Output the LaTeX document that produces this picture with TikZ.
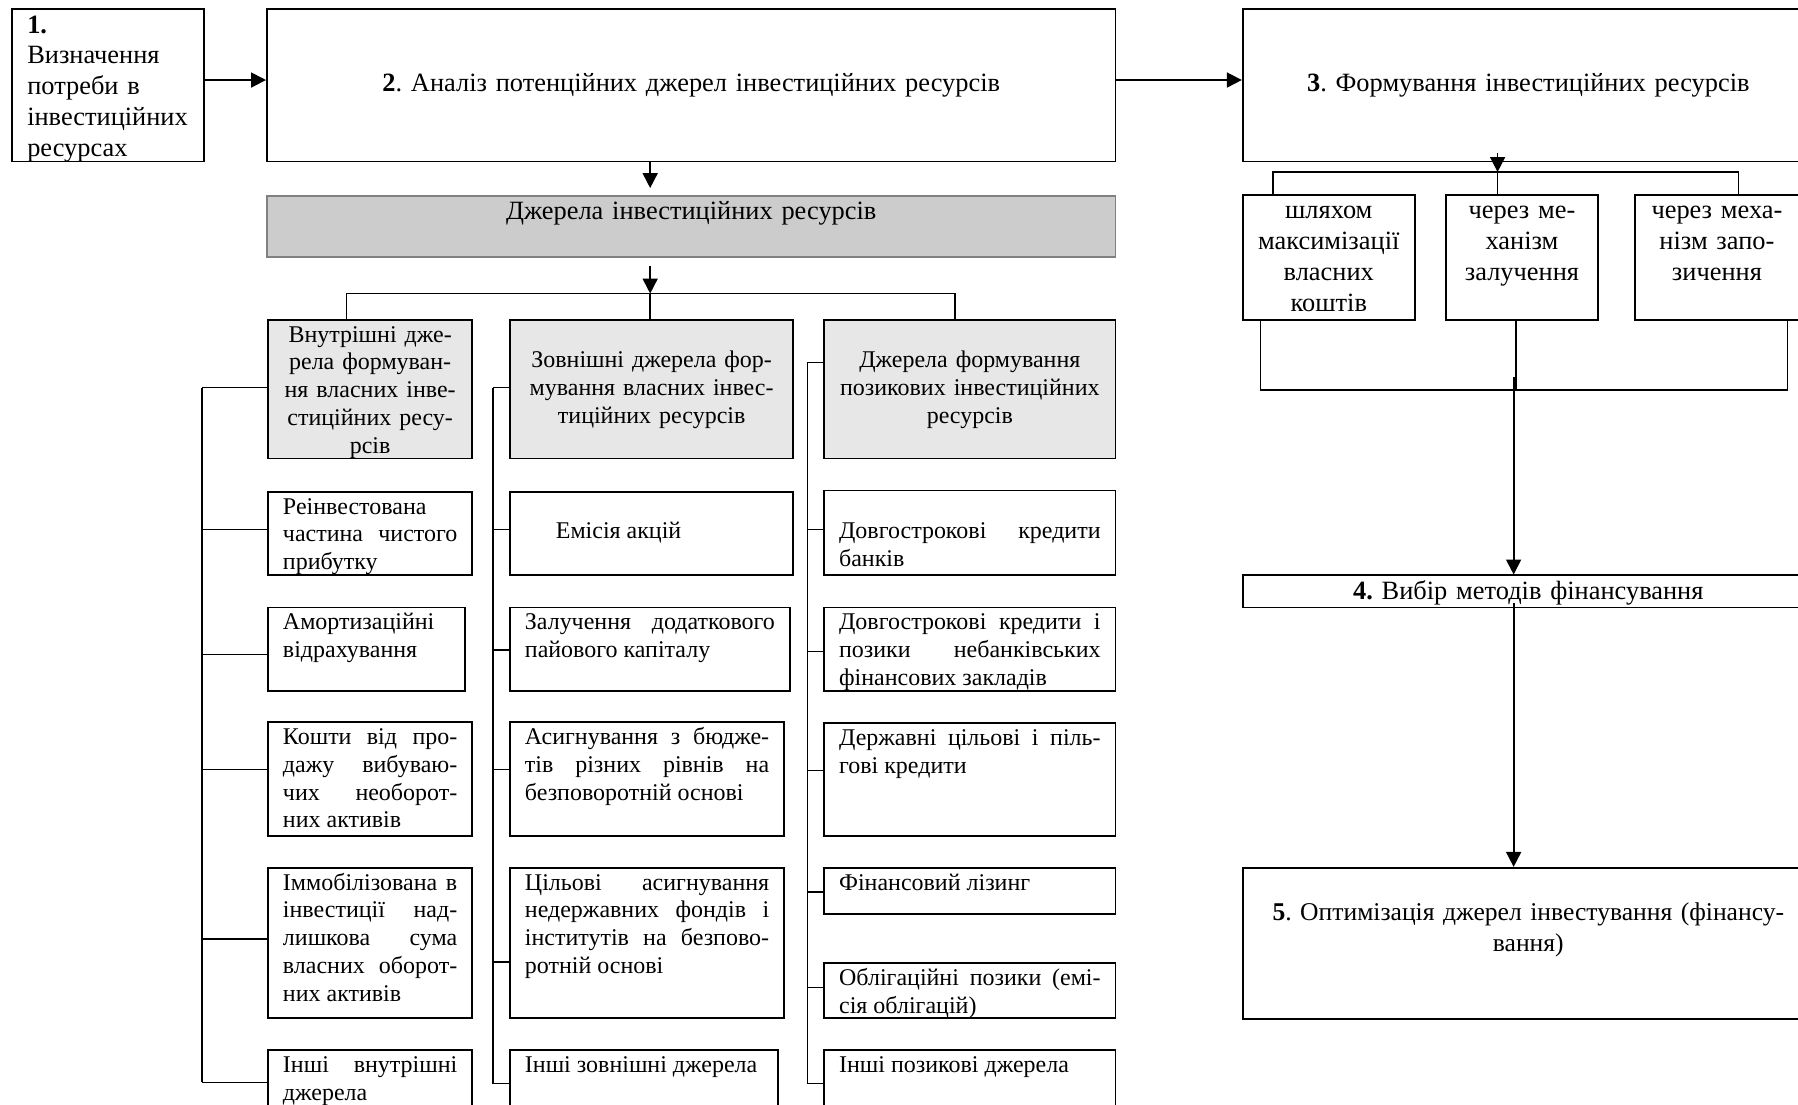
\documentclass[tikz,border=0pt]{standalone}
\usepackage{fontspec}
\setmainfont{Liberation Serif}
\frenchspacing
\usetikzlibrary{arrows.meta}
\definecolor{shade}{RGB}{204,204,204}
\definecolor{pale}{RGB}{231,231,231}
\definecolor{rim}{RGB}{128,128,128}
\tikzset{
  >={Triangle[length=2.6mm,width=2.6mm]},
  lead/.code={\def\celllead{#1}},
  pad/.code={\def\cellpad{#1}},
  cell/.style 2 args={draw,line width=0.9pt,anchor=north west,lead=0.39cm,pad=0.26cm,
    inner xsep=\cellpad,inner ysep=0pt,text width=#1*0.02cm-2*\cellpad,
    text height=\celllead,text depth=#2*0.02cm-\celllead,
    align=justify,font=\fontsize{11.9}{13.8}\selectfont},
  head/.style={fill=pale,align=center},
  big/.style={font=\fontsize{13.1}{15.3}\selectfont,lead=0.42cm},
  link/.style={line width=0.7pt},
  flow/.style={->,line width=0.9pt},
}
\begin{document}
\begin{tikzpicture}[x=0.02cm,y=-0.02cm]
  \path[use as bounding box,clip] (0,0) rectangle (1568,963);
  % stages
  \node[cell={167}{133},big,align=left] (b1) at (10,7) {\textbf{1.}\\Визначення\\потреби в\\інвестиційних\\ресурсах};
  \node[cell={740}{133},big,align=center,lead=1.44cm] (b2) at (232,7) {\textbf{2}. Аналіз потенційних джерел інвестиційних ресурсів};
  \node[cell={498}{133},big,align=center,lead=1.44cm] (b3) at (1083,7) {\textbf{3}. Формування інвестиційних ресурсів};
  \node[cell={498}{28},big,align=center] (b4) at (1083,501) {\textbf{4.} Вибір методів фінансування};
  \node[cell={498}{132},big,align=center,lead=0.92cm,font=\fontsize{12.7}{15.3}\selectfont] (b5) at (1083,756) {\textbf{5}. Оптимізація джерел інвестування (фінансу-\\вання)};
  \draw[flow] ([yshift=0.09cm]b1.east) -- ([yshift=0.09cm]b2.west);
  \draw[flow] ([yshift=0.09cm]b2.east) -- ([yshift=0.09cm]b3.west);
  % sources
  \node[cell={740}{53},big,align=center,fill=shade,draw=rim] (dz) at (232,170) {Джерела інвестиційних ресурсів};
  \coordinate (jn) at (567,256);
  \draw[flow,shorten >=0.12cm] (b2.south -| jn) -- (dz.north -| jn);
  \draw[flow] ([yshift=-0.14cm]dz.south -| jn) -- (jn);
  \node[cell={178}{121},head] (h1) at (233,278) {Внутрішні дже-\\рела формуван-\\ня власних інве-\\стиційних ресу-\\рсів};
  \node[cell={247}{121},head,lead=0.84cm,pad=0.1cm] (h2) at (444,278) {Зовнішні джерела фор-\\мування власних інвес-\\тиційних ресурсів};
  \node[cell={254}{121},head,lead=0.84cm,pad=0.1cm] (h3) at (718,278) {Джерела формування\\позикових інвестиційних\\ресурсів};
  \draw[link] (h1.north -| 302,0) |- (jn) -| (h3.north -| 833,0);
  \draw[link] (jn) -- (h2.north -| jn);
  % internal
  \node[cell={178}{73}] (a1) at (233,428) {Реінвестована\\частина чистого\linebreak прибутку};
  \node[cell={172}{73}] (a2) at (233,529) {Амортизаційні\\відрахування};
  \node[cell={178}{99}] (a3) at (233,629) {Кошти від про-\linebreak дажу вибуваю-\linebreak чих необорот-\linebreak них активів};
  \node[cell={178}{131}] (a4) at (233,756) {Іммобілізована в\linebreak інвестиції над-\linebreak лишкова сума\linebreak власних оборот-\linebreak них активів};
  \node[cell={178}{73}] (a5) at (233,915) {Інші внутрішні\linebreak джерела};
  % external
  \node[cell={247}{73},lead=0.82cm] (c1) at (444,428) {\hspace*{0.54cm}Емісія акцій};
  \node[cell={244}{73}] (c2) at (444,529) {Залучення додаткового\linebreak пайового капіталу};
  \node[cell={239}{99}] (c3) at (444,629) {Асигнування з бюдже-\linebreak тів різних рівнів на\linebreak безповоротній основі};
  \node[cell={239}{131}] (c4) at (444,756) {Цільові асигнування\linebreak недержавних фондів і\linebreak інститутів на безпово-\linebreak ротній основі};
  \node[cell={234}{73}] (c5) at (444,915) {Інші зовнішні джерела};
  % borrowed
  \node[cell={254}{74},lead=0.84cm] (d1) at (718,427) {Довгострокові кредити\linebreak банків};
  \node[cell={254}{73}] (d2) at (718,529) {Довгострокові кредити і\linebreak позики небанківських\linebreak фінансових закладів};
  \node[cell={254}{98}] (d3) at (718,630) {Державні цільові і піль-\linebreak гові кредити};
  \node[cell={254}{40}] (d4) at (718,756) {Фінансовий лізинг};
  \node[cell={254}{48}] (d5) at (718,839) {Облігаційні позики (емі-\linebreak сія облігацій)};
  \node[cell={254}{73}] (d6) at (718,915) {Інші позикові джерела};
  \foreach \n/\y in {h1/338,a1/462,a2/571,a3/671,a4/819,a5/944}
    \draw[link] (\n.west |- 0,\y) -- (176,\y);
  \foreach \n/\y in {h2/338,c1/462,c2/567,c3/671,c4/839,c5/945}
    \draw[link] (\n.west |- 0,\y) -- (430,\y);
  \foreach \n/\y in {h3/316,d1/462,d2/568,d3/672,d4/778,d5/861,d6/945}
    \draw[link] (\n.west |- 0,\y) -- (704,\y);
  \draw[link] (176,338) -- (176,944) (430,338) -- (430,945) (704,316) -- (704,945);
  % ways of forming
  \node[cell={150}{109},big,align=center,pad=0.05cm] (s1) at (1083,169) {шляхом\\максимізації\\власних\\коштів};
  \node[cell={133}{109},big,align=center,pad=0.05cm] (s2) at (1260,169) {через ме-\\ханізм\\залучення};
  \node[cell={143}{109},big,align=center,pad=0.05cm] (s3) at (1425,169) {через меха-\\нізм запо-\\зичення};
  \coordinate (fk) at (1306,150);
  \coordinate (mg) at (1320,340);
  \draw[flow] ([yshift=0.16cm]b3.south -| fk) -- (fk);
  \draw[link] (s1.north -| 1110,0) |- (fk) -| (s3.north -| 1516,0);
  \draw[link] (fk) -- (s2.north -| fk);
  \draw[link] (s1.south -| 1099,0) |- (mg) -| (s3.south -| 1559,0);
  \draw[link] (s2.south -| 1322,0) -- (mg -| 1322,0);
  \draw[flow] ([yshift=0.22cm]mg) -- (b4.north -| mg);
  \draw[flow] ([yshift=0.1cm]b4.south -| mg) -- (b5.north -| mg);
\end{tikzpicture}
\end{document}
